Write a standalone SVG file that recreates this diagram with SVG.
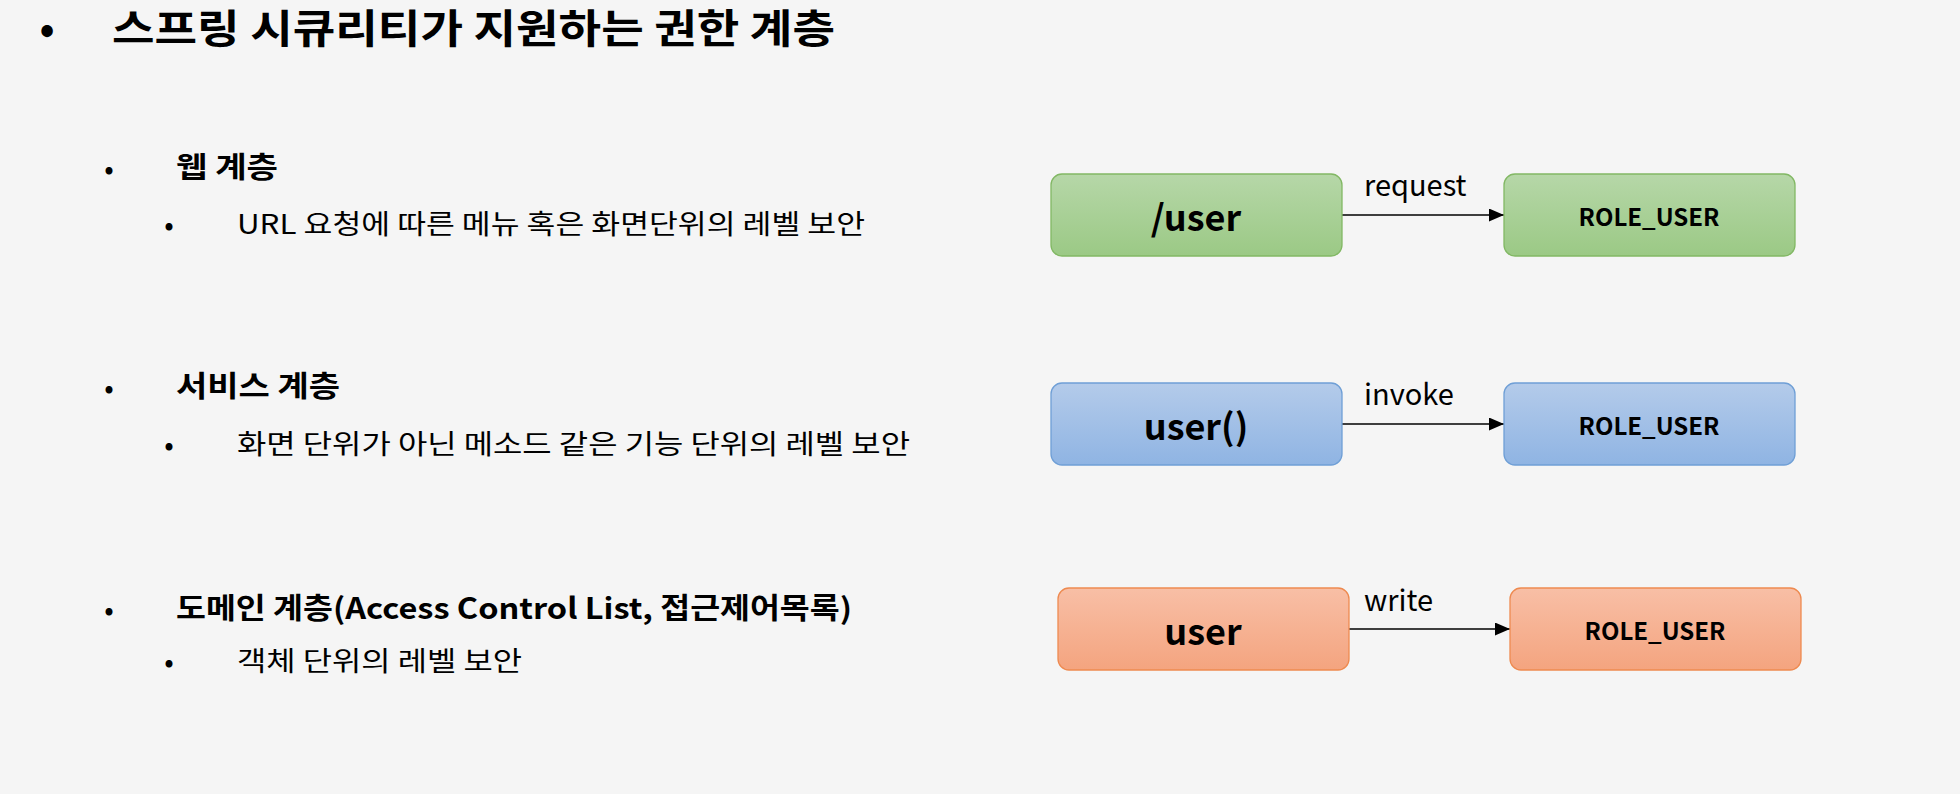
<svg xmlns="http://www.w3.org/2000/svg" width="1960" height="794" viewBox="0 0 1960 794">
<style>
.t{font-family:"Noto Sans CJK KR","Noto Sans",sans-serif;fill:#000}
.title{font-size:40px;font-weight:bold}
.h{font-size:29px;font-weight:bold}
.s{font-size:27px}
.b{font-size:28px}
.lbl{font-family:"Noto Sans CJK KR","Noto Sans",sans-serif;font-size:29px;fill:#000}
.big{font-family:"Noto Sans CJK KR","Noto Sans",sans-serif;font-size:36px;font-weight:bold;fill:#000;text-anchor:middle;dominant-baseline:central}
.role{font-family:"Noto Sans CJK KR","Noto Sans",sans-serif;font-size:24px;font-weight:bold;fill:#000;text-anchor:middle;dominant-baseline:central}
.g{fill:url(#gg);stroke:#82b864;stroke-width:1.3}
.bl{fill:url(#gb);stroke:#6f9fd6;stroke-width:1.3}
.o{fill:url(#go);stroke:#ee8a50;stroke-width:1.3}
.c{stroke:#000;stroke-width:1.4;fill:none;marker-end:url(#ah)}
</style>
<defs>
<linearGradient id="gg" x1="0" y1="0" x2="0" y2="1"><stop offset="0" stop-color="#b6d7a8"/><stop offset="1" stop-color="#9bc985"/></linearGradient>
<linearGradient id="gb" x1="0" y1="0" x2="0" y2="1"><stop offset="0" stop-color="#b4cbea"/><stop offset="1" stop-color="#8fb4e3"/></linearGradient>
<linearGradient id="go" x1="0" y1="0" x2="0" y2="1"><stop offset="0" stop-color="#f8bfa6"/><stop offset="1" stop-color="#f4a47f"/></linearGradient>
<marker id="ah" viewBox="0 0 15 13" refX="15" refY="6.5" markerWidth="15" markerHeight="13" markerUnits="userSpaceOnUse" orient="auto"><path d="M0,0 L15,6.5 L0,13 Z" fill="#000"/></marker>
</defs>
<rect width="1960" height="794" fill="#f5f5f5"/>
<g id="text">
<text class="t title" x="47" y="43" text-anchor="middle">•</text>
<text class="t title" x="112" y="43" textLength="723" lengthAdjust="spacingAndGlyphs">스프링 시큐리티가 지원하는 권한 계층</text>
<text class="t b" x="109" y="179" text-anchor="middle">•</text>
<text class="t h" x="176" y="178" textLength="102" lengthAdjust="spacingAndGlyphs">웹 계층</text>
<text class="t b" x="169" y="235" text-anchor="middle">•</text>
<text class="t s" x="237" y="234" textLength="628" lengthAdjust="spacingAndGlyphs">URL 요청에 따른 메뉴 혹은 화면단위의 레벨 보안</text>
<text class="t b" x="109" y="398" text-anchor="middle">•</text>
<text class="t h" x="176" y="397" textLength="164" lengthAdjust="spacingAndGlyphs">서비스 계층</text>
<text class="t b" x="169" y="455" text-anchor="middle">•</text>
<text class="t s" x="237" y="454" textLength="673" lengthAdjust="spacingAndGlyphs">화면 단위가 아닌 메소드 같은 기능 단위의 레벨 보안</text>
<text class="t b" x="109" y="620" text-anchor="middle">•</text>
<text class="t h" x="176" y="619" textLength="676" lengthAdjust="spacingAndGlyphs">도메인 계층(Access Control List, 접근제어목록)</text>
<text class="t b" x="169" y="672" text-anchor="middle">•</text>
<text class="t s" x="237" y="671" textLength="285" lengthAdjust="spacingAndGlyphs">객체 단위의 레벨 보안</text>
</g>
<g id="connectors">
<line class="c" x1="1342" y1="215" x2="1504" y2="215"/>
<text class="lbl" x="1364" y="196">request</text>
<line class="c" x1="1342" y1="424" x2="1504" y2="424"/>
<text class="lbl" x="1364" y="405">invoke</text>
<line class="c" x1="1349" y1="629" x2="1510" y2="629"/>
<text class="lbl" x="1364" y="611">write</text>
</g>
<g id="node-url">
<rect class="g" x="1051" y="174" width="291" height="82" rx="11"/>
<text class="big" x="1196" y="215">/user</text>
</g>
<g id="node-role-web">
<rect class="g" x="1504" y="174" width="291" height="82" rx="11"/>
<text class="role" x="1649" y="215">ROLE_USER</text>
</g>
<g id="node-method">
<rect class="bl" x="1051" y="383" width="291" height="82" rx="11"/>
<text class="big" x="1196" y="424">user()</text>
</g>
<g id="node-role-service">
<rect class="bl" x="1504" y="383" width="291" height="82" rx="11"/>
<text class="role" x="1649" y="424">ROLE_USER</text>
</g>
<g id="node-object">
<rect class="o" x="1058" y="588" width="291" height="82" rx="11"/>
<text class="big" x="1203" y="629">user</text>
</g>
<g id="node-role-domain">
<rect class="o" x="1510" y="588" width="291" height="82" rx="11"/>
<text class="role" x="1655" y="629">ROLE_USER</text>
</g>
</svg>
